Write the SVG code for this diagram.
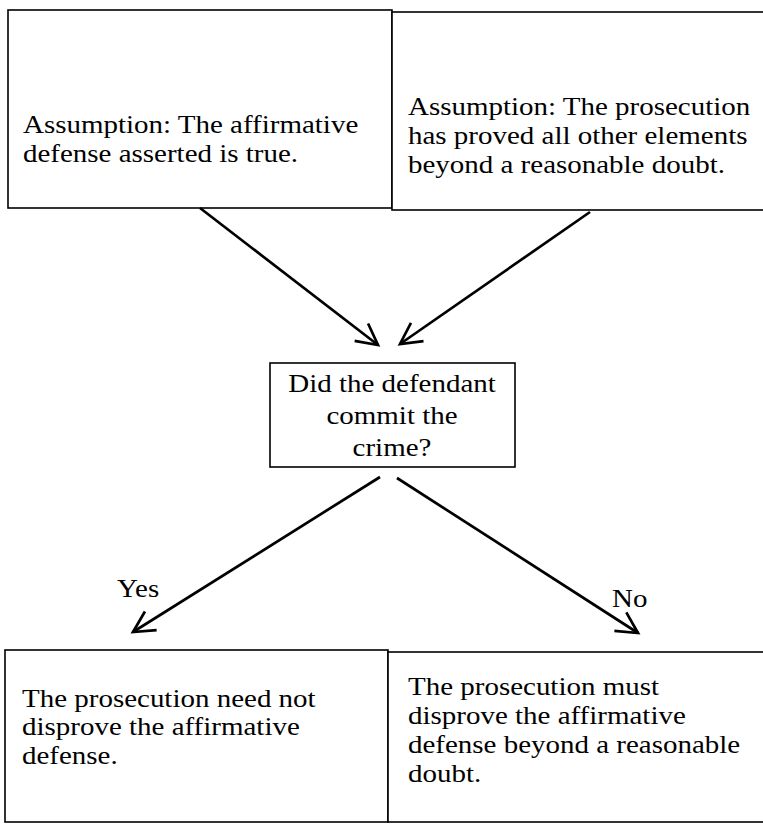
<svg xmlns="http://www.w3.org/2000/svg" width="763" height="824" viewBox="0 0 763 824">
<style>
.box{fill:#fff;stroke:#000;stroke-width:1.6}
.t{font-family:"Liberation Serif","Times New Roman",serif;font-size:26px;fill:#000}
.c{text-anchor:middle}
.arrow{stroke:#000;stroke-width:2.7;fill:none;marker-end:url(#ah)}
</style>
<defs>
<marker id="ah" markerUnits="userSpaceOnUse" viewBox="-26 -14 30 28" refX="0" refY="0" markerWidth="30" markerHeight="28" orient="auto">
<path d="M-21,-11 L0,0 L-21,11" fill="none" stroke="#000" stroke-width="2.7" stroke-linejoin="miter"/>
</marker>
</defs>
<rect width="763" height="824" fill="#fff"/>
<g id="assumption-defense">
<rect class="box" x="8" y="10" width="384" height="198"/>
<text class="t" transform="translate(23,133) scale(1.115,1)">Assumption: The affirmative</text>
<text class="t" transform="translate(23,162) scale(1.115,1)">defense asserted is true.</text>
</g>
<g id="assumption-prosecution">
<rect class="box" x="392" y="12" width="380" height="198"/>
<text class="t" transform="translate(408,115) scale(1.115,1)">Assumption: The prosecution</text>
<text class="t" transform="translate(408,144) scale(1.115,1)">has proved all other elements</text>
<text class="t" transform="translate(408,173) scale(1.115,1)">beyond a reasonable doubt.</text>
</g>
<g id="question">
<rect class="box" x="270" y="363" width="245" height="104"/>
<text class="t c" transform="translate(392,392) scale(1.115,1)">Did the defendant</text>
<text class="t c" transform="translate(392,424) scale(1.115,1)">commit the</text>
<text class="t c" transform="translate(392,456) scale(1.115,1)">crime?</text>
</g>
<g id="need-not">
<rect class="box" x="5" y="650" width="383" height="172"/>
<text class="t" transform="translate(22,707) scale(1.115,1)">The prosecution need not</text>
<text class="t" transform="translate(22,735) scale(1.115,1)">disprove the affirmative</text>
<text class="t" transform="translate(22,764) scale(1.115,1)">defense.</text>
</g>
<g id="must-disprove">
<rect class="box" x="388" y="652" width="382" height="170"/>
<text class="t" transform="translate(408,695) scale(1.115,1)">The prosecution must</text>
<text class="t" transform="translate(408,724) scale(1.115,1)">disprove the affirmative</text>
<text class="t" transform="translate(408,753) scale(1.115,1)">defense beyond a reasonable</text>
<text class="t" transform="translate(408,782) scale(1.115,1)">doubt.</text>
</g>
<g id="connectors">
<line class="arrow" x1="200" y1="208" x2="378" y2="345"/>
<line class="arrow" x1="590" y1="212" x2="400" y2="344"/>
<line class="arrow" x1="380" y1="477" x2="133" y2="632"/>
<line class="arrow" x1="397" y1="478" x2="638" y2="633"/>
<text class="t" transform="translate(117,597) scale(1.115,1)">Yes</text>
<text class="t" transform="translate(612,607) scale(1.115,1)">No</text>
</g>
</svg>
